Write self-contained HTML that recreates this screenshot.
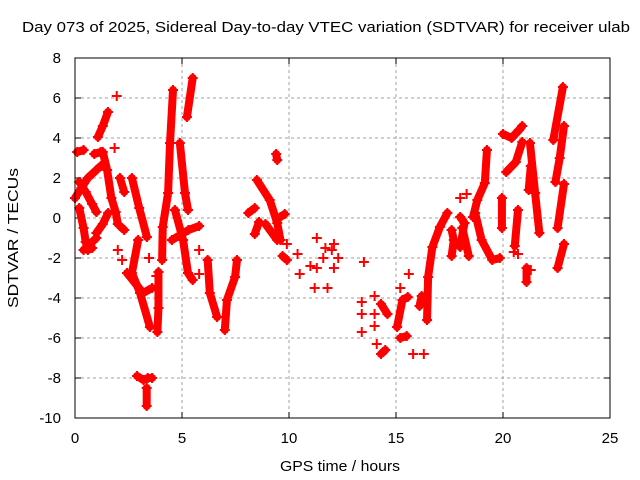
<!DOCTYPE html>
<html><head><meta charset="utf-8"><style>
body{margin:0;background:#fff}
svg{display:block;font-family:"Liberation Sans",sans-serif}
</style></head><body>
<svg id="chart" width="640" height="480">
<text x="326" y="32" font-size="15" text-anchor="middle" textLength="608" lengthAdjust="spacingAndGlyphs">Day 073 of 2025, Sidereal Day-to-day VTEC variation (SDTVAR) for receiver ulab</text>
<text x="340" y="471" font-size="15" text-anchor="middle" textLength="120" lengthAdjust="spacingAndGlyphs">GPS time / hours</text>
<text transform="translate(18,238) rotate(-90)" font-size="15" text-anchor="middle" textLength="140" lengthAdjust="spacingAndGlyphs">SDTVAR / TECUs</text>
<g id="grid"></g><g id="marks"></g>
<rect x="75" y="58" width="535" height="360" fill="none" stroke="#000"/>
</svg>
<script>
const xTicks=[0,5,10,15,20,25];
const yTicks=[-10,-8,-6,-4,-2,0,2,4,6,8];
const traces=[
[[0.0,1.0],[0.3,1.5],[0.6,2.0],[1.0,2.4],[1.2,2.6]],
[[0.1,3.3],[0.4,3.4]],
[[0.2,0.5],[0.4,-0.5],[0.5,-1.2],[0.6,-1.6],[0.8,-1.5]],
[[0.2,1.8],[0.5,1.3],[0.8,0.7],[1.0,0.3]],
[[0.4,-1.6],[0.7,-1.3],[1.0,-1.0]],
[[0.9,3.2],[1.2,3.3]],
[[1.3,3.3],[1.5,2.4],[1.7,1.0],[1.9,0.3],[2.0,-0.3]],
[[1.0,-0.75],[1.3,-0.3],[1.55,0.25]],
[[1.07,4.05],[1.3,4.6],[1.54,5.3]],
[[1.95,6.1]],[[1.85,3.5]],[[2.0,-1.6]],
[[2.1,2.0],[2.3,1.3]],
[[2.1,-0.4],[2.3,-0.6]],[[2.2,-2.1]],
[[2.66,2.0],[3.0,0.5],[3.36,-0.95]],
[[2.95,-1.1],[2.66,-2.75],[3.04,-3.75],[3.5,-5.45]],
[[2.43,-2.75],[3.18,-3.75],[3.6,-3.5]],
[[3.9,-2.7],[3.9,-4.5],[3.85,-5.7]],
[[2.9,-7.9],[3.2,-8.1],[3.4,-8.0],[3.6,-8.0]],
[[3.35,-8.5],[3.35,-9.4]],
[[3.46,-2.0]],[[3.8,-2.9]],
[[4.58,6.4],[4.44,3.75],[4.35,1.25],[4.1,-0.45],[4.07,-2.1]],
[[4.9,3.75],[5.14,1.25],[5.28,0.4]],
[[4.67,0.4],[5.05,-1.1],[5.28,-2.75],[5.5,-3.1]],
[[4.53,-1.1],[5.3,-0.6],[5.8,-0.4]],
[[5.8,-1.6]],[[5.8,-2.8]],
[[5.23,5.05],[5.5,7.0]],
[[6.2,-2.1],[6.3,-3.75],[6.64,-4.95]],
[[7.0,-5.6],[7.1,-4.1],[7.48,-2.95],[7.57,-2.1]],
[[8.5,1.9],[9.1,0.9],[9.45,-0.25],[9.6,-1.1]],
[[8.9,-0.3],[9.45,-1.1]],
[[9.6,0.05],[9.8,0.2]],
[[8.4,-0.8],[8.6,-0.2]],[[8.1,0.25],[8.4,0.5]],
[[9.7,-1.9],[9.9,-2.1]],[[9.9,-1.3]],
[[9.4,3.2],[9.45,2.9]],
[[10.4,-1.8]],[[10.5,-2.8]],[[11.0,-2.4]],[[11.2,-3.5]],[[11.3,-1.0]],[[11.3,-2.5]],
[[11.8,-3.5]],[[11.6,-2.0]],[[11.7,-1.5]],[[12.0,-1.6]],[[12.3,-2.0]],[[12.1,-2.5]],[[12.1,-1.3]],
[[13.5,-2.2]],[[13.4,-4.2]],[[13.4,-4.8]],[[13.4,-5.7]],[[14.0,-4.8]],[[14.0,-5.4]],[[14.1,-6.3]],
[[14.3,-6.8],[14.5,-6.6]],[[14.3,-4.3],[14.6,-4.8]],[[14.0,-3.9]],
[[15.05,-5.45],[15.3,-4.1],[15.55,-3.95]],
[[15.2,-6.0],[15.5,-5.9]],[[15.8,-6.8]],[[16.3,-6.8]],
[[15.2,-3.5]],[[15.6,-2.8]],[[16.1,-4.4],[16.2,-3.9]],
[[16.45,-5.1],[16.5,-2.95],[16.7,-1.45],[17.05,-0.45],[17.4,0.25]],
[[17.6,-0.6],[17.7,-1.1],[17.6,-1.9]],
[[18.1,-0.5],[18.4,-1.9]],
[[18.0,-1.45],[18.2,-0.25],[18.0,0.05]],
[[18.0,1.0]],[[18.3,1.2]],
[[18.6,0.05],[18.8,0.9],[19.15,1.75],[19.25,3.4]],
[[18.7,0.25],[19.0,-1.1],[19.5,-2.1],[19.85,-2.0]],
[[20.0,4.2],[20.4,4.0],[20.75,4.4],[20.9,4.6]],
[[20.15,2.3],[20.6,2.8],[20.9,3.8]],
[[21.26,3.75],[21.5,1.25],[21.7,-0.75]],
[[20.55,-1.4],[20.7,0.4]],[[20.7,-1.8]],[[20.5,-1.7]],
[[19.95,1.0],[19.95,-0.5]],
[[21.1,-2.5],[21.1,-3.2]],[[21.3,-2.6]],
[[21.2,1.4],[21.3,2.6]],
[[22.35,3.9],[22.8,6.55]],
[[22.45,1.8],[22.65,3.0],[22.85,4.6]],
[[22.55,-0.5],[22.85,1.7]],
[[22.55,-2.5],[22.85,-1.3]]
];
const NS='http://www.w3.org/2000/svg';
const X0=75,X1=610,Y0=418,Y1=58;
function sx(h){return X0+(h-0)/(25-0)*(X1-X0);}
function sy(v){return Y0-(v+10)/(18)*(Y0-Y1);}
const grid=document.getElementById('grid'),marks=document.getElementById('marks');
function mk(tag,attrs,parent){const e=document.createElementNS(NS,tag);for(const k in attrs)e.setAttribute(k,attrs[k]);parent.appendChild(e);return e;}
xTicks.forEach(t=>{
  const x=sx(t);
  if(t>0&&t<25){const l=mk('line',{x1:x,x2:x,y1:Y1,y2:Y0,stroke:'#a0a0a0','stroke-dasharray':'3,3'},grid);
  
  }
  mk('line',{x1:x,x2:x,y1:Y0,y2:Y0-6,stroke:'#000'},grid);
  mk('line',{x1:x,x2:x,y1:Y1,y2:Y1+6,stroke:'#000'},grid);
  const tx=mk('text',{x:x,y:Y0+25,'font-size':15,'text-anchor':'middle'},grid);tx.textContent=t;
  
  
});
yTicks.forEach(t=>{
  const y=sy(t);
  if(t>-10&&t<8){const l=mk('line',{x1:X0,x2:X1,y1:y,y2:y,stroke:'#a0a0a0','stroke-dasharray':'3,3'},grid);
  
  }
  mk('line',{x1:X0,x2:X0+6,y1:y,y2:y,stroke:'#000'},grid);
  mk('line',{x1:X1,x2:X1-6,y1:y,y2:y,stroke:'#000'},grid);
  const tx=mk('text',{x:X0-14,y:y+5,'font-size':15,'text-anchor':'end'},grid);tx.textContent=t;
  
  
});
traces.forEach(tr=>{
  const g=mk('g',{},marks);
  
  
  if(tr.length>1){
    const pts=tr.map(p=>sx(p[0])+','+sy(p[1])).join(' ');
    mk('polyline',{points:pts,fill:'none',stroke:'#ff0000','stroke-width':8,'stroke-linejoin':'round','stroke-linecap':'round'},g);
  }
  tr.forEach(p=>{
    const x=sx(p[0]),y=sy(p[1]);
    const m=mk('path',{d:`M${x-5},${y}H${x+5}M${x},${y-5}V${y+5}`,stroke:'#ff0000','stroke-width':2},g);
    
    
  });
});
</script>
</body></html>
